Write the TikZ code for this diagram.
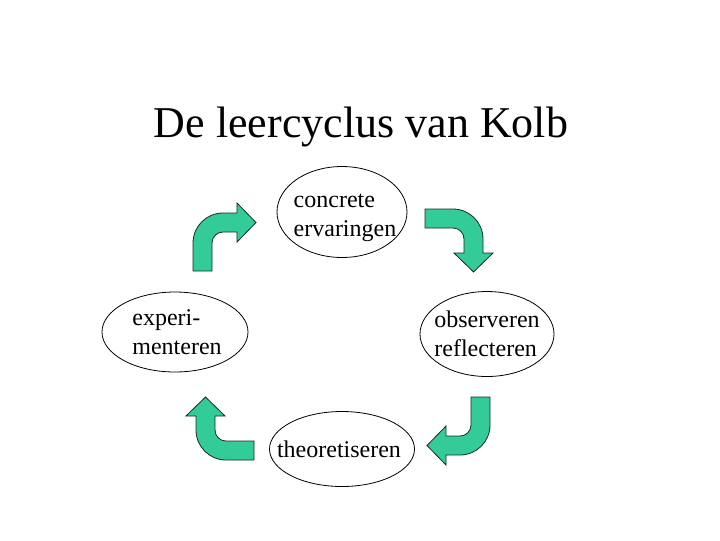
\documentclass[tikz,border=0pt]{standalone}
\usepackage{fontspec}
\setmainfont{Liberation Serif}
\usetikzlibrary{shapes.geometric}
\definecolor{KolbGreen}{RGB}{51,204,153}
\definecolor{KolbEdge}{RGB}{20,45,35}
\tikzset{
  kolb/stage/.style={
    ellipse,
    draw=black,
    line width=0.6pt,
    inner sep=0pt
  },
  kolb/label/.style={
    align=left,
    inner sep=0pt,
    font=\fontsize{18}{22}\selectfont
  },
  kolb/title/.style={
    anchor=base,
    inner sep=0pt,
    font=\fontsize{33}{40}\selectfont
  },
  kolb/bent/.style={fill=KolbGreen, draw=KolbEdge, line width=0.6pt},
  % one bent arrow: corner at the origin, tail going down, head pointing right
  kolb/bentarrow/.pic={
    \path[kolb/bent] (0,58) -- (0,30) .. controls (0,13.4) and (13.4,0) .. (30,0)
      -- (44,0) -- (44,-10) -- (63,9.5) -- (44,29) -- (44,19) -- (30,19)
      .. controls (23.9,19) and (19,23.9) .. (19,30) -- (19,58) -- cycle;
  }
}

\begin{document}
\begin{tikzpicture}[x=0.75pt,y=-0.75pt]
  \useasboundingbox (0,0) rectangle (720,540);

  \node[kolb/title] (title) at (361,137) {De leercyclus van Kolb};

  \foreach \name/\x/\y/\w/\h/\dx/\dy/\txt in {
    concrete/342/212/130/91/3/6/{concrete\\ervaringen},
    observeren/487/334/134/85/0/0/{observeren\\reflecteren},
    theorie/342/449/145/75/-3/0/{theoretiseren},
    experiment/175/332/146/80/2/0/{experi-\\menteren}}
  {
    \node[kolb/stage,minimum width=\w*0.75pt,minimum height=\h*0.75pt] (\name) at (\x,\y) {};
    \node[kolb/label] (\name-txt) at ([shift={(\dx,\dy)}]\name.center) {\txt};
  }

  % arrows between the stages
  \foreach \x/\y/\ang in {193/213/0,483/209/-90,490/455/180,196/460/90}
    \pic[rotate=\ang] at (\x,\y) {kolb/bentarrow};
\end{tikzpicture}
\end{document}
